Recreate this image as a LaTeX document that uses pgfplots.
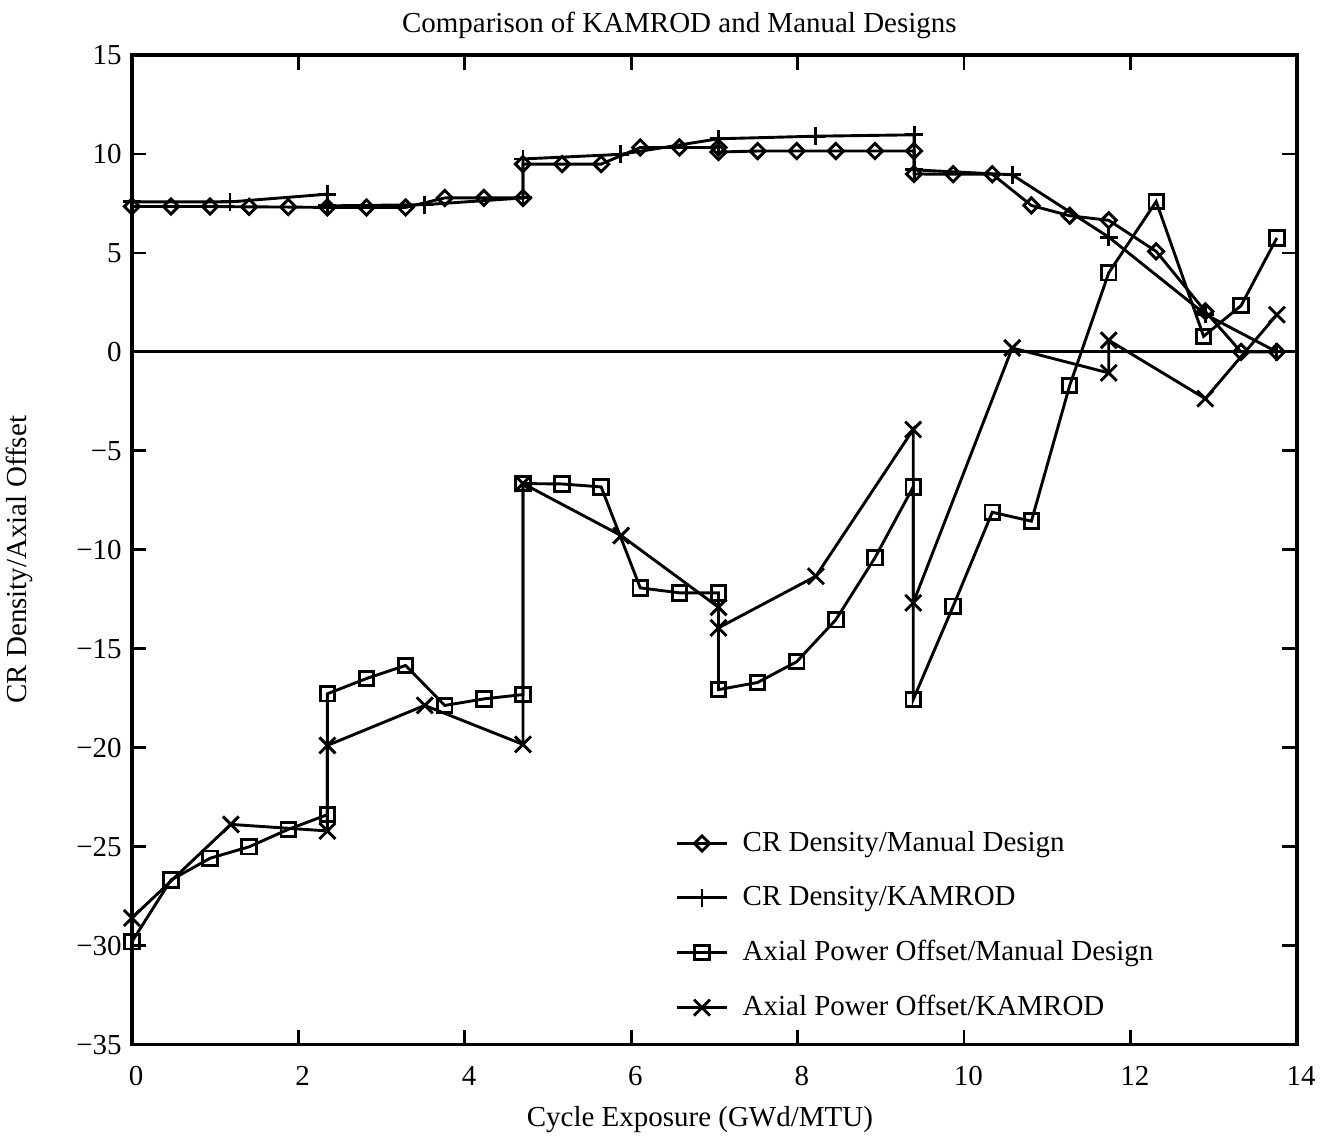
\documentclass[border=0pt]{standalone}
\usepackage{pgfplots}
\pgfplotsset{compat=1.18}
\usepackage{fontspec}
\setmainfont{Liberation Serif}

\begin{document}
\begin{tikzpicture}
\useasboundingbox (-45.5pt,-32.1pt) rectangle (413.1pt,360.5pt);
\begin{axis}[
    scale only axis,
    width=402pt, height=341.5pt,
    xmin=0, xmax=14, ymin=-35, ymax=15,
    xtick={0,2,...,14},
    ytick={-35,-30,...,15},
    yticklabels={−35,−30,−25,−20,−15,−10,−5,0,5,10,15},
    tick align=inside,
    major tick length=5pt,
    axis line style={line width=1.2pt},
    tick style={line width=1pt, black},
    font=\fontsize{10}{12}\selectfont,
    /pgf/number format/assume math mode=true,
    xticklabel style={yshift=-4pt, xshift=1.5pt},
    title={Comparison of KAMROD and Manual Designs},
    every axis title shift=0pt,
    title style={at={(0.47,1.0303)}, anchor=center},
    xlabel={Cycle Exposure (GWd/MTU)},
    xlabel style={at={(0.4876,-0.0758)}, anchor=center},
    ylabel={CR Density/Axial Offset},
    ylabel style={at={(-0.0961,0.49)}, anchor=center},
    legend style={at={(0.459,0.228)}, anchor=north west, draw=none, fill=none,
        font=\fontsize{10}{12}\selectfont, row sep=6.5pt, column sep=3pt},
    legend cell align=left,
    every axis plot/.append style={black, line width=1pt},
]
% zero line
\draw[line width=1pt] (axis cs:0,0) -- (axis cs:14,0);

% CR density, manual design
\addplot[mark=square, mark size=1.85pt, mark options={solid, rotate=45}] coordinates {
    (0,7.35) (0.47,7.35) (0.94,7.35) (1.41,7.33) (1.88,7.32) (2.35,7.3)
    (2.82,7.3) (3.29,7.3) (3.76,7.78) (4.23,7.78) (4.7,7.78)
    (4.7,9.49) (5.17,9.49) (5.64,9.49) (6.11,10.33) (6.58,10.33) (7.05,10.33)
    (7.05,10.1) (7.52,10.15) (7.99,10.15) (8.46,10.15) (8.93,10.15) (9.4,10.15)
    (9.4,8.99) (9.87,8.98) (10.34,8.98) (10.81,7.4) (11.27,6.88) (11.74,6.65)
    (12.31,5.08) (12.9,2.05) (13.33,0) (13.76,0)
};
\addlegendentry{CR Density/Manual Design}

% CR density, KAMROD
\addplot[mark=+, mark size=3.1pt, mark options={solid}] coordinates {
    (0,7.58) (1.18,7.58) (2.35,7.97) (2.35,7.38) (3.52,7.44) (4.7,7.78)
    (4.7,9.75) (5.87,9.98) (7.05,10.77) (8.22,10.9) (9.4,10.97)
    (9.4,9.2) (10.58,8.95) (11.74,5.8) (12.9,1.9) (13.76,0)
};
\addlegendentry{CR Density/KAMROD}

% axial power offset, manual design
\addplot[mark=square, mark size=2.5pt, mark options={solid}] coordinates {
    (0,-29.8) (0.47,-26.68) (0.94,-25.58) (1.41,-25.0) (1.88,-24.12) (2.35,-23.38)
    (2.35,-17.27) (2.82,-16.5) (3.29,-15.84) (3.76,-17.86) (4.23,-17.53) (4.7,-17.31)
    (4.7,-6.65) (5.17,-6.67) (5.64,-6.82) (6.11,-11.92) (6.58,-12.17) (7.05,-12.17)
    (7.05,-17.06) (7.52,-16.7) (7.99,-15.65) (8.46,-13.53) (8.93,-10.4) (9.39,-6.82)
    (9.39,-17.56) (9.87,-12.85) (10.34,-8.1) (10.81,-8.55) (11.27,-1.7) (11.74,4.0)
    (12.31,7.6) (12.88,0.79) (13.33,2.34) (13.76,5.76)
};
\addlegendentry{Axial Power Offset/Manual Design}

% axial power offset, KAMROD
\addplot[mark=x, mark size=3.9pt, mark options={solid}] coordinates {
    (0,-28.6) (1.19,-23.87) (2.35,-24.2) (2.35,-19.88) (3.52,-17.86) (4.7,-19.83)
    (4.7,-6.65) (5.88,-9.28) (7.05,-12.9) (7.05,-13.94) (8.22,-11.33) (9.39,-3.92)
    (9.39,-12.68) (10.58,0.2) (11.74,-1.06) (11.74,0.59) (12.9,-2.36) (13.76,1.88)
};
\addlegendentry{Axial Power Offset/KAMROD}
\end{axis}
\end{tikzpicture}
\end{document}
